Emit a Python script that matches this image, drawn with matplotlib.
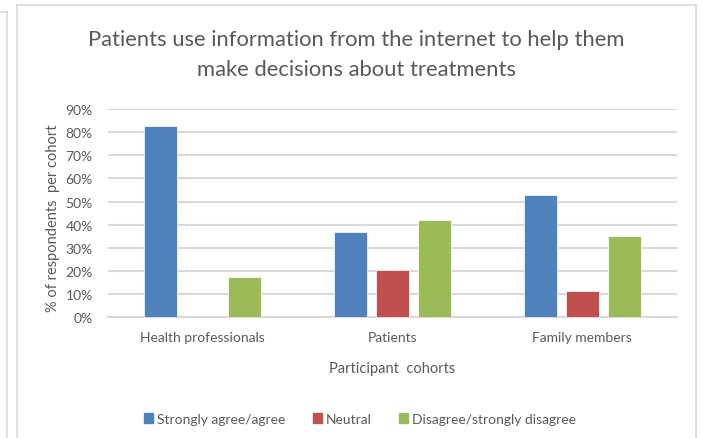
import matplotlib
matplotlib.use("Agg")
import matplotlib.pyplot as plt
import numpy as np
from matplotlib.lines import Line2D
from matplotlib import ticker

plt.rcParams["font.family"] = ["Lato", "DejaVu Sans"]

cohorts = ["Health professionals", "Patients", "Family members"]
series_names = ["Strongly agree/agree", "Neutral", "Disagree/strongly disagree"]
agree = [82.8, 36.7, 52.8]
neutral = [0.0, 20.6, 11.4]
disagree = [17.4, 42.0, 35.3]
colors = ["#4F81BD", "#C0504D", "#9BBB59"]

text_gray = "#595959"
grid_gray = "#D9D9D9"

fig = plt.figure(figsize=(7.02, 4.39), dpi=100)

# chart frame lines (Excel-style border)
W, H = 702, 439
def fx(px):
    return px / W
def fy(py):
    return 1 - py / H
fig.add_artist(Line2D([fx(17), fx(17)], [fy(6), 0], color="#D9D9D9", lw=1.2))
fig.add_artist(Line2D([fx(17), fx(696)], [fy(6), fy(6)], color="#D9D9D9", lw=1.2))
fig.add_artist(Line2D([fx(696), fx(696)], [fy(6), 0], color="#D9D9D9", lw=1.2))
fig.add_artist(Line2D([fx(7), fx(7)], [fy(13), 0], color="#D9D9D9", lw=1.2))
fig.add_artist(Line2D([0, fx(7)], [fy(13), fy(13)], color="#D9D9D9", lw=1.2))

ax = fig.add_axes([fx(108), fy(318.3), fx(677) - fx(108), fy(110) - fy(318.3)])

x = np.arange(len(cohorts))
width = 0.174
step = 0.222
for i, (vals, name, c) in enumerate(zip([agree, neutral, disagree], series_names, colors)):
    ax.bar(x + (i - 1) * step, np.array(vals) / 100, width, color=c, label=name,
           edgecolor="white", linewidth=0.5, zorder=3)

ax.set_xlim(-0.5, 2.5)
ax.set_ylim(0, 0.9)
ax.yaxis.set_major_locator(ticker.MultipleLocator(0.1))
ax.yaxis.set_major_formatter(ticker.PercentFormatter(1.0, decimals=0))
ax.grid(axis="y", color=grid_gray, lw=1.5, zorder=0)
ax.set_xticks(x)
ax.set_xticklabels(cohorts)
for s in ["top", "right", "left"]:
    ax.spines[s].set_visible(False)
ax.spines["bottom"].set_color(grid_gray)
ax.spines["bottom"].set_linewidth(1.5)
ax.tick_params(axis="both", length=0, colors=text_gray, labelsize=10)
ax.tick_params(axis="y", pad=11)
ax.tick_params(axis="x", pad=10)

ax.set_xlabel("Participant  cohorts", color=text_gray, fontsize=10.5, labelpad=13)
ax.set_ylabel("% of respondents  per cohort", color=text_gray, fontsize=10.5)
ax.yaxis.set_label_coords(-0.084, 0.48)

fig.text(fx(356), fy(55), "Patients use information from the internet to help them\nmake decisions about treatments",
         ha="center", va="center", fontsize=15.8, color=text_gray, linespacing=1.6)

handles = [plt.Rectangle((0, 0), 1, 1, color=c) for c in colors]
fig.legend(handles, series_names, loc="center", bbox_to_anchor=(fx(360), fy(420)),
           ncol=3, frameon=False, fontsize=10, labelcolor=text_gray,
           handlelength=0.65, handleheight=0.65, handletextpad=0.25, columnspacing=2.0)

fig.savefig("out.png", dpi=100)
